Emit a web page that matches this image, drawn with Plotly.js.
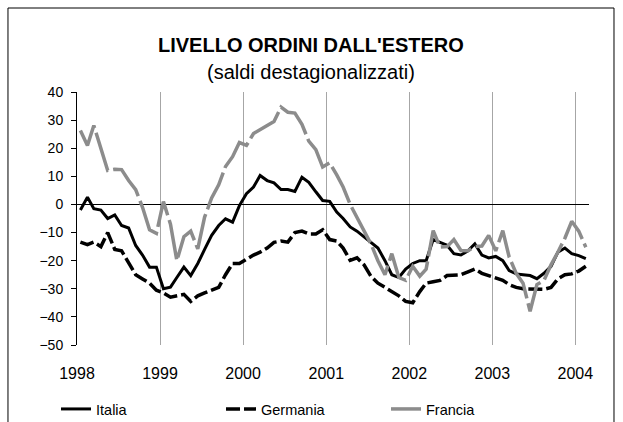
<!DOCTYPE html>
<html>
<head>
<meta charset="utf-8">
<script src="https://cdn.plot.ly/plotly-3.0.1.min.js"></script>
<style>
html,body{margin:0;padding:0;background:#fff;}
#chart{width:623px;height:422px;}
</style>
</head>
<body>
<div id="chart"></div>
<script>
// Monthly data, January 1998 - February 2004
var startYear = 1998;
var yearLabels = ['1998','1999','2000','2001','2002','2003','2004'];

var italia = [
  -2, 2.6, -1.5, -2, -5, -3.7, -7.5, -8.4, -14.6, -18, -22.3, -22.3,
  -30, -29.4, -26, -22.3, -25.3, -21, -16, -11, -7.5, -5.1, -6.3, -0.4,
  3.8, 6.2, 10.3, 8.5, 7.7, 5.3, 5.3, 4.6, 9.7, 7.9, 4.5, 1.4,
  1.1, -2.7, -5, -8, -9.5, -11.6, -13.5, -15.5, -20, -25, -26, -23,
  -21, -20, -20, -12.5, -13.5, -14.5, -17.5, -18, -16.5, -14, -18, -19,
  -18.5, -20, -23.5, -24.7, -25, -25.3, -26.4, -24.5, -22, -17, -15.5, -17.5,
  -18.2, -19.3
];
var germania = [
  -13.4, -14.3, -13.4, -15, -10, -16, -16.5, -21, -25, -26.5, -28, -30.5,
  -31.5, -33, -32.5, -32, -34.5, -32.5, -31.5, -30.5, -29.5, -25, -21, -21,
  -19.5, -18, -17, -15.5, -13.5, -13, -13.4, -10, -9.5, -10.5, -10.5, -9,
  -12.5, -13, -15.5, -19.9, -19, -21.5, -25.5, -28, -29.5, -31, -32.5, -34.5,
  -35, -31, -28, -27.5, -27, -25.3, -25.3, -25, -24, -23, -24.5, -25.3,
  -25.9, -27, -28.5, -29.5, -30, -30, -30, -30.2, -29.5, -26.5, -25, -24.7,
  -23.7, -22
];
var francia = [
  26.3, 21, 28.1, 19.5, 12.1, 12.5, 12.4, 8.5, 5.3, -1, -9, -10.3,
  1, -7, -20, -11.5, -9.5, -15.8, -4.5, 2.3, 7, 13.5, 17, 22,
  21, 25.2, 26.6, 28, 29.5, 34.6, 32.8, 32.5, 28.5, 22.5, 19.5, 13.3,
  14.8, 10.5, 6.2, 0, -4.5, -9.5, -14, -20, -25, -17.5, -26, -27,
  -22, -25.5, -23, -9.3, -15.2, -15, -12.5, -16.4, -16.5, -15, -14.8, -11,
  -16.5, -9.3, -18.7, -24.5, -28, -38, -28.5, -27, -21.5, -17, -12, -6,
  -9.5, -15.2
];

// month dates (mid-month, as in a category axis "between tick marks")
var months = [];
for (var i = 0; i < italia.length; i++) {
  var y = startYear + Math.floor(i / 12);
  var m = (i % 12) + 1;
  months.push(y + '-' + (m < 10 ? '0' : '') + m + '-16');
}
var yearTicks = yearLabels.map(function (t) { return t + '-01-01'; });

var FONT = 'Liberation Sans, Arial, sans-serif';

var traces = [
  {x: months, y: italia, name: 'Italia', type: 'scatter', mode: 'lines',
   line: {color: '#000000', width: 3}},
  {x: months, y: germania, name: 'Germania', type: 'scatter', mode: 'lines',
   line: {color: '#000000', width: 3.5, dash: '14px,4px'}},
  {x: months, y: francia, name: 'Francia', type: 'scatter', mode: 'lines',
   line: {color: '#8c8c8c', width: 3.5, dash: '40px,5px'}}
];

var layout = {
  width: 623, height: 422,
  margin: {l: 77, r: 34, t: 92, b: 77, autoexpand: false},
  paper_bgcolor: '#ffffff', plot_bgcolor: '#ffffff',
  font: {family: FONT, size: 15, color: '#000000'},
  showlegend: true,
  legend: {orientation: 'h', x: -0.041, xanchor: 'left', y: -0.253, yanchor: 'middle',
           entrywidth: 120, entrywidthmode: 'pixels', font: {size: 14.5, family: FONT},
           bgcolor: 'rgba(0,0,0,0)'},
  xaxis: {
    type: 'date', range: ['1998-01-01', '2004-03-01'],
    tickvals: yearTicks, ticktext: yearLabels, ticks: '',
    showgrid: true, gridcolor: '#a6a6a6', gridwidth: 1,
    showline: false, zeroline: false,
    tickfont: {size: 16, family: FONT}, ticklabelstandoff: 17
  },
  yaxis: {
    range: [-50, 40], dtick: 10, tick0: 0,
    showgrid: false, zeroline: true, zerolinecolor: '#000000', zerolinewidth: 1,
    showline: true, linecolor: '#000000', linewidth: 1,
    ticks: 'outside', ticklen: 5, tickcolor: '#000000', tickwidth: 1,
    tickfont: {size: 14, family: FONT}, ticklabelstandoff: 5
  },
  annotations: [
    {text: "<b>LIVELLO ORDINI DALL'ESTERO</b>", xref: 'paper', yref: 'paper',
     x: 0.457, y: 1.186, xanchor: 'center', yanchor: 'middle', showarrow: false,
     font: {size: 20, family: FONT}},
    {text: '(saldi destagionalizzati)', xref: 'paper', yref: 'paper',
     x: 0.457, y: 1.079, xanchor: 'center', yanchor: 'middle', showarrow: false,
     font: {size: 20, family: FONT}}
  ],
  shapes: [
    {type: 'rect', xref: 'paper', yref: 'paper', x0: -0.1348, x1: 1.0488, y0: -0.45, y1: 1.332,
     line: {color: '#000000', width: 1}, layer: 'below'}
  ]
};

Plotly.newPlot('chart', traces, layout, {displayModeBar: false, staticPlot: true});
</script>
</body>
</html>
